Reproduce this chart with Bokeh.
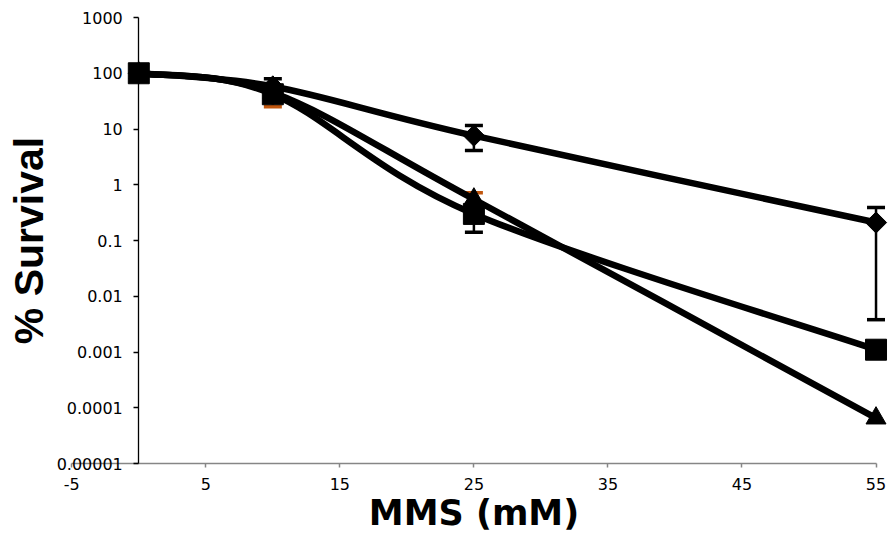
import numpy as np
from bokeh.plotting import figure
from bokeh.models import (Range1d, FixedTicker, CustomJSTickFormatter, Whisker,
                          TeeHead, ColumnDataSource, Label)
from bokeh.embed import file_html
from bokeh.resources import INLINE

# ---- data ----
dose = [0, 10, 25, 55]
diamond = [100, 58, 7.6, 0.21]
square = [100, 42, 0.30, 0.0011]
triangle = [100, 45, 0.55, 0.000065]

diamond_err_x = [10, 25, 55]
diamond_err_lo = [37, 4.1, 0.0038]
diamond_err_hi = [80, 11.5, 0.39]
square_err_x = [25]
square_err_lo = [0.14]
square_err_hi = [0.46]
triangle_err_x = [10, 25]
triangle_err_lo = [25, 0.36]
triangle_err_hi = [60, 0.72]

x_ticks = [-5, 5, 15, 25, 35, 45, 55]
y_ticks = [1e-5, 1e-4, 1e-3, 1e-2, 1e-1, 1, 10, 100, 1000]
y_tick_labels = ["0.00001", "0.0001", "0.001", "0.01", "0.1", "1", "10", "100", "1000"]

ORANGE = "#C0560E"


def smooth_source(xs, ys):
    """Catmull-Rom style smoothing (as a spreadsheet's smoothed line) in x / log10(y) space."""
    X = np.asarray(xs, float)
    L = np.log10(np.asarray(ys, float))
    n = len(X)
    d = dict(x0=[], y0=[], x1=[], y1=[], cx0=[], cy0=[], cx1=[], cy1=[])
    for i in range(n - 1):
        ip = max(i - 1, 0)
        inx = min(i + 2, n - 1)
        d["x0"].append(X[i]); d["y0"].append(10 ** L[i])
        d["x1"].append(X[i + 1]); d["y1"].append(10 ** L[i + 1])
        d["cx0"].append(X[i] + (X[i + 1] - X[ip]) / 6)
        d["cy0"].append(10 ** (L[i] + (L[i + 1] - L[ip]) / 6))
        d["cx1"].append(X[i + 1] - (X[inx] - X[i]) / 6)
        d["cy1"].append(10 ** (L[i + 1] - (L[inx] - L[i]) / 6))
    return ColumnDataSource(d)


# The frame covers the whole canvas; both axes are placed at fixed data locations
# (y axis at x = 0, x axis at y = 0.00001) and bounded to the visible data span.
p = figure(width=890, height=538, output_backend="svg", toolbar_location=None,
           x_range=Range1d(-10.318, 56.08),
           y_range=Range1d(10 ** -6.345, 10 ** 3.305),
           y_axis_type="log", min_border_left=0, min_border_right=0,
           min_border_top=0, min_border_bottom=0)
p.outline_line_color = None
p.xgrid.visible = False
p.ygrid.visible = False
p.background_fill_color = "white"
p.border_fill_color = "white"

# x axis
xa = p.xaxis[0]
xa.fixed_location = 1e-5
xa.bounds = (-5, 55)
xa.ticker = FixedTicker(ticks=x_ticks, minor_ticks=[])
xa.formatter = CustomJSTickFormatter(code="return String(tick)")
xa.axis_line_color = "#868686"
xa.axis_line_width = 1.5
xa.major_tick_line_color = "#868686"
xa.major_tick_line_width = 1.5
xa.major_tick_out = 4
xa.major_tick_in = 0
xa.minor_tick_line_color = None
xa.major_label_text_font = "DejaVu Sans"
xa.major_label_text_font_size = "16px"
xa.major_label_text_color = "black"
xa.major_label_standoff = 10
xa.axis_label = "MMS (mM)"
xa.axis_label_text_font = "DejaVu Sans"
xa.axis_label_text_font_style = "bold"
xa.axis_label_text_font_size = "35px"
xa.axis_label_text_color = "black"
xa.axis_label_standoff = 0

# y axis, crossing at x = 0
ya = p.yaxis[0]
ya.fixed_location = 0
ya.bounds = (1e-5, 1000)
ya.ticker = FixedTicker(ticks=y_ticks, minor_ticks=[])
ya.formatter = CustomJSTickFormatter(args=dict(labels=y_tick_labels),
                                     code="return labels[Math.round(Math.log10(tick)) + 5]")
ya.axis_line_color = "black"
ya.axis_line_width = 1.3
ya.major_tick_line_color = "black"
ya.major_tick_line_width = 1.3
ya.major_tick_out = 5
ya.major_tick_in = 0
ya.minor_tick_line_color = None
ya.major_label_text_font = "DejaVu Sans"
ya.major_label_text_font_size = "16px"
ya.major_label_text_color = "black"
ya.major_label_standoff = 11

p.add_layout(Label(x=-5, y=0.1, x_offset=-43, text="% Survival", angle=np.pi / 2,
                   text_align="center", text_baseline="middle",
                   text_font="Liberation Sans", text_font_style="bold",
                   text_font_size="41px", text_color="black"))

# error bars (under the lines and markers)
for ex, lo, hi, col in [(diamond_err_x, diamond_err_lo, diamond_err_hi, "black"),
                        (square_err_x, square_err_lo, square_err_hi, "black"),
                        (triangle_err_x, triangle_err_lo, triangle_err_hi, ORANGE)]:
    src = ColumnDataSource(dict(x=ex, lower=lo, upper=hi))
    w = Whisker(base="x", lower="lower", upper="upper", source=src, dimension="height",
                line_color=col, line_width=2.5, level="underlay",
                upper_head=TeeHead(size=18, line_color=col, line_width=3.5),
                lower_head=TeeHead(size=18, line_color=col, line_width=3.5))
    p.add_layout(w)

# smoothed lines
for ys in (diamond, square, triangle):
    p.bezier(x0="x0", y0="y0", x1="x1", y1="y1", cx0="cx0", cy0="cy0",
             cx1="cx1", cy1="cy1", source=smooth_source(dose, ys),
             line_color="black", line_width=6.5, line_cap="round")

# markers
p.scatter(dose, diamond, marker="square", angle=np.pi / 4, size=15,
          fill_color="black", line_color="black")
p.scatter(dose, triangle, marker="triangle", size=20,
          fill_color="black", line_color="black")
p.scatter(dose, square, marker="square", size=21,
          fill_color="black", line_color="black")

open("out.html", "w").write(file_html(p, INLINE))
